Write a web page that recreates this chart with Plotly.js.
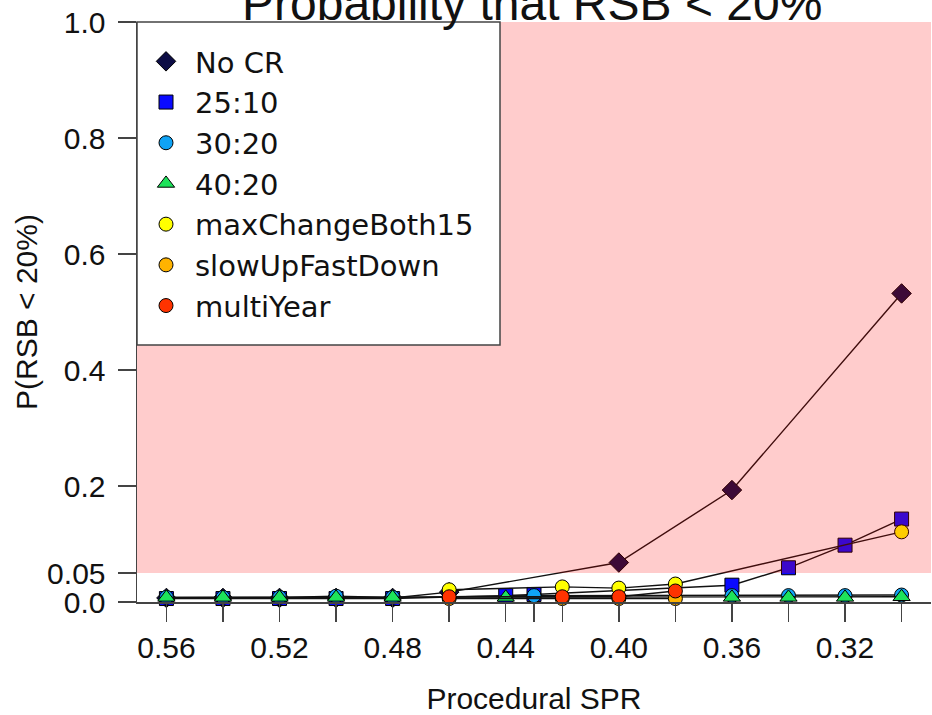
<!DOCTYPE html>
<html>
<head>
<meta charset="utf-8">
<script src="https://cdn.plot.ly/plotly-3.0.1.min.js"></script>
<style>html,body{margin:0;padding:0;background:#fff;}#chart{width:932px;height:715px;}</style>
</head>
<body>
<div id="chart"></div>
<script>
// ---- data ----
const seriesNames = ["No CR", "25:10", "30:20", "40:20", "maxChangeBoth15", "slowUpFastDown", "multiYear"];

const xNoCR = [0.56, 0.54, 0.52, 0.50, 0.48, 0.46, 0.40, 0.36, 0.30];
const yNoCR = [0.007, 0.007, 0.007, 0.007, 0.007, 0.017, 0.068, 0.193, 0.532];

const x2510 = [0.56, 0.54, 0.52, 0.50, 0.48, 0.44, 0.43, 0.36, 0.34, 0.32, 0.30];
const y2510 = [0.006, 0.006, 0.006, 0.006, 0.006, 0.011, 0.013, 0.029, 0.059, 0.098, 0.143];

const x3020 = [0.56, 0.54, 0.52, 0.50, 0.48, 0.43, 0.36, 0.34, 0.32, 0.30];
const y3020 = [0.008, 0.008, 0.008, 0.010, 0.008, 0.011, 0.011, 0.011, 0.011, 0.012];

const x4020 = [0.56, 0.54, 0.52, 0.50, 0.48, 0.44, 0.36, 0.34, 0.32, 0.30];
const y4020 = [0.008, 0.008, 0.008, 0.008, 0.008, 0.008, 0.008, 0.008, 0.008, 0.009];

const xMax15 = [0.46, 0.42, 0.40, 0.38, 0.30];
const yMax15 = [0.021, 0.026, 0.024, 0.031, 0.121];

const xSlow = [0.46, 0.42, 0.40, 0.38];
const ySlow = [0.006, 0.006, 0.006, 0.006];

const xMulti = [0.46, 0.42, 0.40, 0.38];
const yMulti = [0.009, 0.009, 0.009, 0.019];

const xTickVals = [0.56, 0.54, 0.52, 0.50, 0.48, 0.46, 0.44, 0.43, 0.42, 0.40, 0.38, 0.36, 0.34, 0.32, 0.30];
const xTickText = ["0.56", "", "0.52", "", "0.48", "", "0.44", "", "", "0.40", "", "0.36", "", "0.32", ""];
const yTickVals = [0, 0.05, 0.2, 0.4, 0.6, 0.8, 1.0];
const yTickText = ["0.0", "0.05", "0.2", "0.4", "0.6", "0.8", "1.0"];
const threshold = 0.05;

// ---- styles ----
const colors = ["#0d0d45", "#0a0aff", "#0fa3f5", "#1de35a", "#ffff00", "#ffb300", "#ff3300"];
const symbols = ["diamond", "square", "circle", "triangle-up", "circle", "circle", "circle"];
const sizes = [15, 14, 14, 15, 14, 14, 14];
const xs = [xNoCR, x2510, x3020, x4020, xMax15, xSlow, xMulti];
const ys = [yNoCR, y2510, y3020, y4020, yMax15, ySlow, yMulti];

const traces = [];
for (let i = 0; i < seriesNames.length; i++) {
  traces.push({
    x: xs[i], y: ys[i], type: "scatter", mode: "lines",
    line: {color: "#111", width: 1.4}, showlegend: false, hoverinfo: "skip", cliponaxis: false
  });
  traces.push({
    x: xs[i], y: ys[i], type: "scatter", mode: "markers", name: seriesNames[i],
    marker: {color: colors[i], symbol: symbols[i], size: sizes[i], line: {color: "#000", width: 1}},
    cliponaxis: false
  });
}

const font = "Liberation Sans, Arial, sans-serif";
const legendFont = "DejaVu Sans, Liberation Sans, sans-serif";
const layout = {
  width: 932, height: 715,
  margin: {l: 137, r: 1, t: 22, b: 113},
  paper_bgcolor: "#fff", plot_bgcolor: "#fff",
  font: {family: font, size: 30, color: "#111"},
  showlegend: true,
  legend: {
    x: 0.0, y: 1 - 14 / 580, xanchor: "left", yanchor: "top",
    bgcolor: "rgba(0,0,0,0)", borderwidth: 0,
    font: {family: legendFont, size: 29, color: "#111"},
    itemwidth: 48, tracegroupgap: 0
  },
  xaxis: {
    range: [0.5704, 0.2896], autorange: false,
    tickmode: "array", tickvals: xTickVals, ticktext: xTickText,
    ticks: "outside", ticklen: 18, tickwidth: 1.5, tickcolor: "#444",
    showgrid: false, zeroline: false, showline: true, linecolor: "#444", linewidth: 1.5,
    tickfont: {family: font, size: 30, color: "#111"},
    title: {text: "Procedural SPR", font: {family: font, size: 30, color: "#111"}, standoff: 29}
  },
  yaxis: {
    range: [0, 1], autorange: false,
    tickmode: "array", tickvals: yTickVals, ticktext: yTickText,
    ticks: "outside", ticklen: 18, tickwidth: 1.5, tickcolor: "#444",
    showgrid: false, zeroline: false, showline: true, linecolor: "#444", linewidth: 1.5,
    tickfont: {family: font, size: 30, color: "#111"}, ticklabelstandoff: 6,
    title: {text: "P(RSB < 20%)", font: {family: font, size: 30, color: "#111"}, standoff: 0}
  },
  shapes: [
    {type: "rect", layer: "above", xref: "paper", yref: "y", x0: 0, x1: 1, y0: threshold, y1: 1,
     fillcolor: "rgba(255,0,0,0.2)", line: {width: 0}},
    {type: "rect", layer: "above", xref: "paper", yref: "paper", x0: 0, x1: 363 / 794, y0: 1 - 323 / 580, y1: 1,
     fillcolor: "#ffffff", line: {color: "#444", width: 1.5}}
  ],
  annotations: [
    {text: "Probability that RSB < 20%", xref: "paper", yref: "paper", x: 0.497, y: 1 + 19 / 580,
     xanchor: "center", yanchor: "middle", showarrow: false,
     font: {family: font, size: 48, color: "#111"}}
  ]
};

Plotly.newPlot("chart", traces, layout, {displayModeBar: false, staticPlot: true});
</script>
</body>
</html>
